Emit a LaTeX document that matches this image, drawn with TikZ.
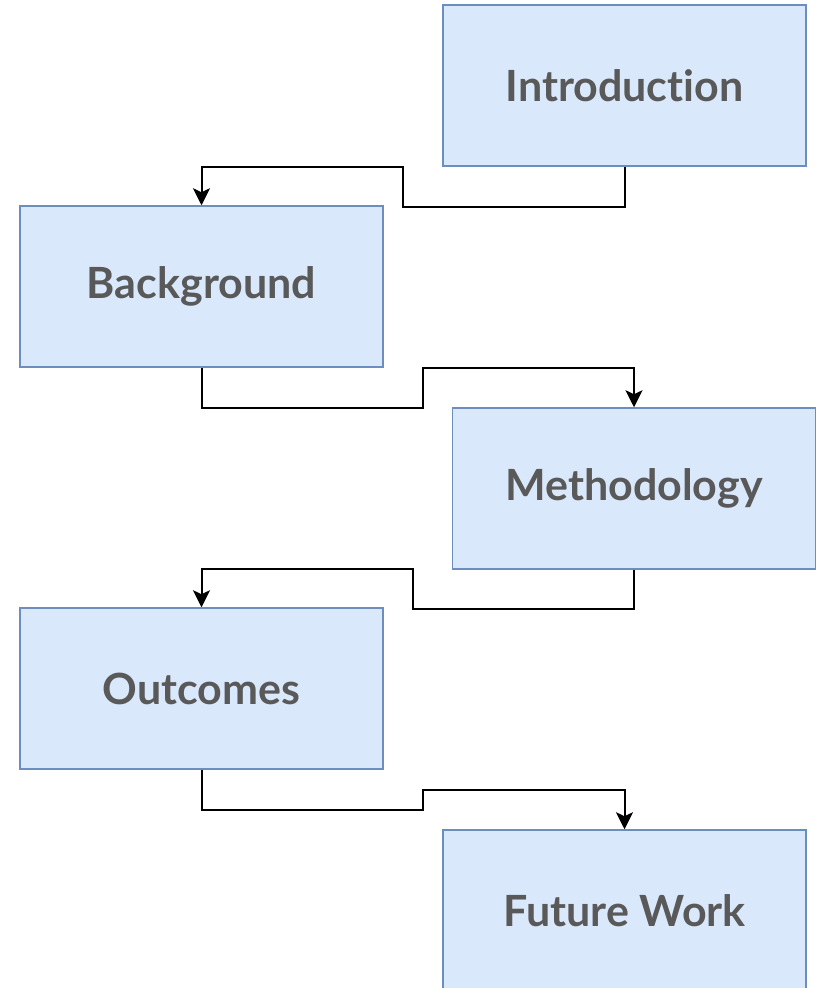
\documentclass[tikz,border=0pt]{standalone}
\usepackage{fontspec}
\setmainfont{Lato}[Ligatures={NoCommon,NoRequired,NoContextual}]
\usetikzlibrary{arrows.meta}
\definecolor{boxfill}{HTML}{DAE8FC}
\definecolor{boxline}{HTML}{6C8EBF}
\definecolor{txt}{HTML}{595959}
\begin{document}
\begin{tikzpicture}[
  box/.style={draw=boxline,fill=boxfill,line width=1.5pt,minimum width=363pt,minimum height=161pt,inner sep=0pt,
    font=\fontsize{43}{50}\selectfont\bfseries,text=txt},
  conn/.style={draw=black,line width=2pt,-{Stealth[length=17pt,width=17pt,inset=4pt]}}]
\useasboundingbox (0pt,0pt) rectangle (815pt,-988pt);
\node[box] (intro) at (624.5pt,-85.5pt) {Introduction};
\node[box] (bg) at (201.5pt,-286.5pt) {Background};
\node[box] (meth) at (634pt,-488.5pt) {Methodology};
\node[box] (out) at (201.5pt,-688.5pt) {Outcomes};
\node[box] (fw) at (624.5pt,-910.5pt) {Future Work};
\draw[conn] (intro.south) -- ++(0pt,-40pt) -- ++(-221.5pt,0pt) -- ++(0pt,40pt) -| (bg.north);
\draw[conn] (bg.south) -- ++(0pt,-40pt) -- ++(221.5pt,0pt) -- ++(0pt,40pt) -| (meth.north);
\draw[conn] (meth.south) -- ++(0pt,-39pt) -- ++(-221pt,0pt) -- ++(0pt,40pt) -| (out.north);
\draw[conn] (out.south) -- ++(0pt,-40pt) -- ++(221.5pt,0pt) -- ++(0pt,20pt) -| (fw.north);
\end{tikzpicture}
\end{document}
